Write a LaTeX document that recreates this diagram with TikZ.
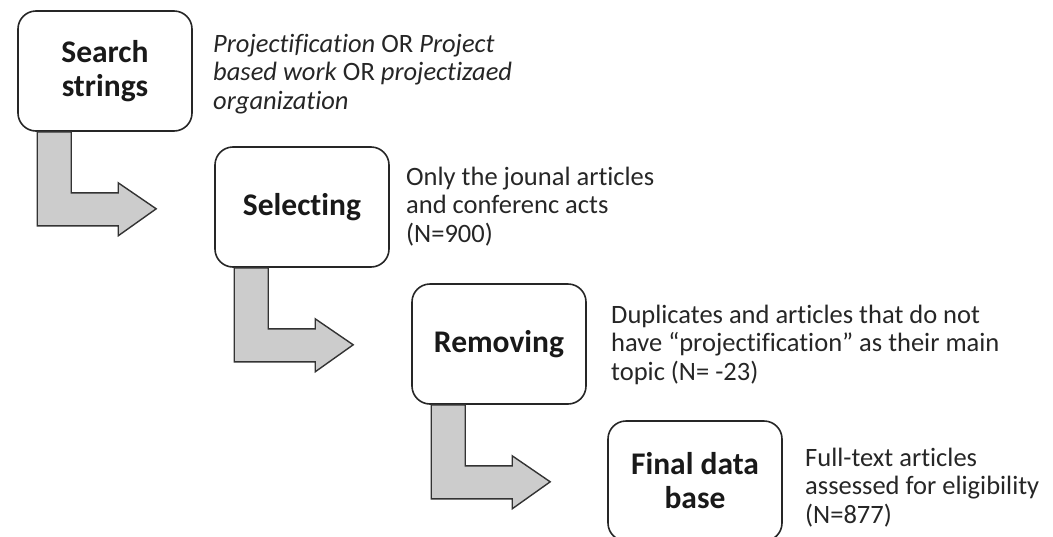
\documentclass[tikz,border=0pt]{standalone}
\usepackage{fontspec}
\setmainfont{Carlito}[Ligatures=NoCommon]
\usepackage{tikz}

\begin{document}
\begin{tikzpicture}[x=1pt, y=-1pt,
    stepbox/.style={draw=black!85, line width=1.6pt, rounded corners=18pt,
        minimum width=174pt, minimum height=120pt, align=center,
        font=\fontsize{31.5}{34}\selectfont\bfseries, text=black!90},
    note/.style={align=left, inner sep=0pt, anchor=base west,
        font=\fontsize{26.5}{28.3}\selectfont, text=black!85},
    bent/.style={draw=black!80, line width=1.4pt, fill=black!20, line join=miter}]
    \useasboundingbox (0,0) rectangle (1053,536);

    % Steps
    \node[stepbox] (search) at (105,71) {Search\\strings};
    \node[stepbox] (select) at (302,207) {Selecting};
    \node[stepbox] (remove) at (499,344) {Removing};
    \node[stepbox] (final) at (695,481) {Final data\\base};

    % Notes beside the steps (placed by the baseline of their last line)
    \node[note] (searchnote) at (213,109) {\textit{Projectification} OR \textit{Project}\\
        \textit{based work} OR \textit{projectizaed}\\ \textit{organization}};
    \node[note] (selectnote) at (406,242) {Only the jounal articles\\
        and conferenc acts\\ (N=900)};
    \node[note] (removenote) at (611,380) {Duplicates and articles that do not\\
        have “projectification” as their main\\ topic (N= -23)};
    \node[note] (finalnote) at (805,523) {Full-text articles\\
        assessed for eligibility\\ (N=877)};

    % Bent arrows from one step to the next
    \draw[bent, shift={(search.south west)}] (20,0) -- (20,94) -- (101,94) -- (101,104)
        -- (139,77) -- (101,51) -- (101,61) -- (54,61) -- (54,0) -- cycle;
    \draw[bent, shift={(select.south west)}] (20,0) -- (20,94) -- (101,94) -- (101,104)
        -- (139,77) -- (101,51) -- (101,61) -- (54,61) -- (54,0) -- cycle;
    \draw[bent, shift={(remove.south west)}] (20,0) -- (20,94) -- (101,94) -- (101,104)
        -- (139,77) -- (101,51) -- (101,61) -- (54,61) -- (54,0) -- cycle;
\end{tikzpicture}
\end{document}
